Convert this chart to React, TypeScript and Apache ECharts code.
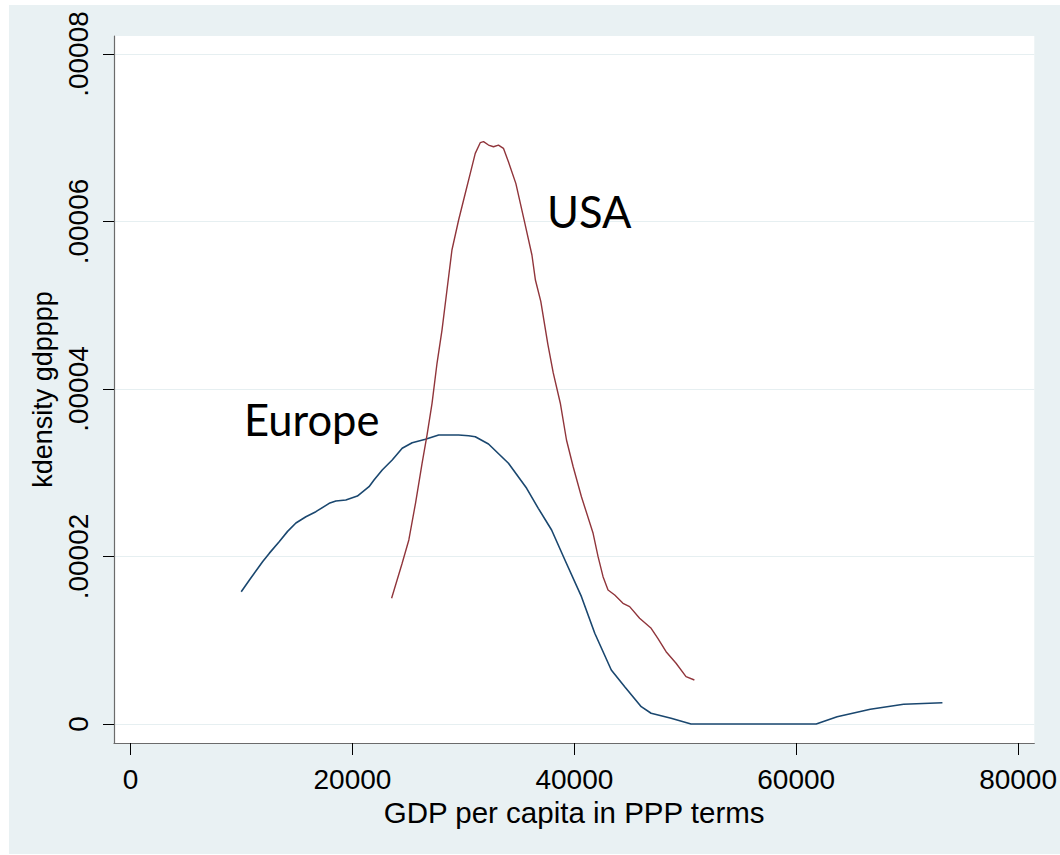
import React, { useEffect, useRef } from "react";
import * as echarts from "echarts";

// Europe kernel density (GDP per capita, density)
const europeX = [9970, 10710, 11910, 12510, 13410, 14150, 14900, 15800, 16700, 17900, 18500, 19400, 20440, 21490, 21940, 22680, 23580, 24480, 25380, 26580, 27770, 29570, 30470, 31070, 32260, 34060, 35700, 36750, 37950, 39150, 40640, 41840, 43330, 44540, 46030, 46920, 48720, 50520, 61800, 63690, 66680, 69680, 73180];
const europeY = [1.58e-5, 1.72e-5, 1.94e-5, 2.04e-5, 2.18e-5, 2.3e-5, 2.4e-5, 2.475e-5, 2.535e-5, 2.635e-5, 2.663e-5, 2.675e-5, 2.722e-5, 2.833e-5, 2.913e-5, 3.033e-5, 3.152e-5, 3.292e-5, 3.359e-5, 3.399e-5, 3.451e-5, 3.451e-5, 3.442e-5, 3.43e-5, 3.343e-5, 3.113e-5, 2.814e-5, 2.575e-5, 2.316e-5, 1.958e-5, 1.52e-5, 1.083e-5, 0.645e-5, 0.446e-5, 0.207e-5, 0.128e-5, 0.068e-5, 0, 0, 0.087e-5, 0.176e-5, 0.235e-5, 0.254e-5];

// USA kernel density
const usaX = [23525, 24477, 25079, 25680, 26273, 26722, 27171, 27620, 28069, 28518, 28966, 29568, 30169, 30618, 31067, 31516, 31813, 32261, 32710, 33159, 33608, 34057, 34730, 35530, 36176, 36490, 36975, 37613, 38098, 38735, 39292, 39894, 40639, 41690, 42139, 42588, 43037, 43639, 44384, 44985, 45883, 46924, 47526, 48271, 49169, 50067, 50821];
const usaY = [1.501e-5, 1.919e-5, 2.197e-5, 2.635e-5, 3.113e-5, 3.451e-5, 3.829e-5, 4.307e-5, 4.704e-5, 5.182e-5, 5.66e-5, 6.018e-5, 6.337e-5, 6.575e-5, 6.814e-5, 6.941e-5, 6.953e-5, 6.913e-5, 6.893e-5, 6.913e-5, 6.874e-5, 6.714e-5, 6.452e-5, 5.983e-5, 5.6e-5, 5.301e-5, 5.046e-5, 4.534e-5, 4.192e-5, 3.83e-5, 3.391e-5, 3.072e-5, 2.714e-5, 2.277e-5, 1.998e-5, 1.759e-5, 1.6e-5, 1.54e-5, 1.441e-5, 1.401e-5, 1.262e-5, 1.143e-5, 1.023e-5, 0.863e-5, 0.725e-5, 0.565e-5, 0.525e-5];

const xTicks = [0, 20000, 40000, 60000, 80000];
const yTicks = [0, 0.00002, 0.00004, 0.00006, 0.00008];
const yTickLabels = ["0", ".00002", ".00004", ".00006", ".00008"];

const xTitle = "GDP per capita in PPP terms";
const yTitle = "kdensity gdpppp";
const europeLabel = "Europe";
const usaLabel = "USA";

export default function App() {
  const ref = useRef<HTMLDivElement>(null);
  useEffect(() => {
    if (!ref.current) return;
    const chart = echarts.init(ref.current, undefined, { renderer: "svg" });
    const font = "'Liberation Sans', Arial, sans-serif";
    const europeData = europeX.map((x, i) => [x, europeY[i]]);
    const usaData = usaX.map((x, i) => [x, usaY[i]]);
    chart.setOption({
      animation: false,
      backgroundColor: "#ffffff",
      graphic: [
        {
          type: "rect",
          left: 9,
          top: 5,
          shape: { width: 1051, height: 849 },
          style: { fill: "#E9F1F3" },
          z: -10,
          silent: true,
        },
        {
          type: "text",
          left: 244,
          top: 397,
          style: { text: europeLabel, fontSize: 43.5, fontFamily: "Lato, sans-serif", fill: "#000" },
          z: 10,
        },
        {
          type: "text",
          left: 547,
          top: 189,
          style: { text: usaLabel, fontSize: 43.5, fontFamily: "Lato, sans-serif", fill: "#000" },
          z: 10,
        },
      ],
      grid: {
        left: 114,
        top: 36,
        width: 924,
        height: 707,
        show: true,
        backgroundColor: "#ffffff",
        borderWidth: 0,
      },
      xAxis: {
        type: "value",
        min: -1499,
        max: 81463,
        name: xTitle,
        nameLocation: "middle",
        nameGap: 47,
        nameTextStyle: { fontSize: 29.5, fontFamily: font, color: "#000" },
        axisLine: { show: true, onZero: false, lineStyle: { color: "#6b6b6b", width: 1.2 } },
        axisTick: { show: true, length: 12, customValues: xTicks, lineStyle: { color: "#000", width: 1 } },
        axisLabel: {
          customValues: xTicks,
          fontSize: 28,
          fontFamily: font,
          color: "#000",
          margin: 22,
          formatter: (v: number) => String(v),
        },
        splitLine: { show: false },
      },
      yAxis: {
        type: "value",
        min: -0.00000227,
        max: 0.00008215,
        name: yTitle,
        nameLocation: "middle",
        nameGap: 40,
        nameTextStyle: { fontSize: 27, fontFamily: font, color: "#000" },
        axisLine: { show: true, onZero: false, lineStyle: { color: "#6b6b6b", width: 1.2 } },
        axisTick: { show: true, length: 11, customValues: yTicks, lineStyle: { color: "#000", width: 1 } },
        axisLabel: {
          customValues: yTicks,
          rotate: 90,
          fontSize: 28,
          fontFamily: font,
          color: "#000",
          margin: 22,
          formatter: (v: number) => {
            const idx = yTicks.findIndex((t) => Math.abs(t - v) < 1e-9);
            return idx >= 0 ? yTickLabels[idx] : "";
          },
        },
        splitLine: { show: true, lineStyle: { color: "#E6EFF1", width: 1.2 } },
      },
      series: [
        {
          name: "Europe",
          type: "line",
          data: europeData,
          showSymbol: false,
          symbol: "none",
          lineStyle: { color: "#1A476F", width: 1.6 },
          z: 3,
        },
        {
          name: "USA",
          type: "line",
          data: usaData,
          showSymbol: false,
          symbol: "none",
          lineStyle: { color: "#90353B", width: 1.4 },
          z: 4,
        },
      ],
    });
    return () => chart.dispose();
  }, []);
  return (
    <div
      ref={ref}
      style={{ position: "absolute", left: 0, top: 0, width: 1060, height: 855 }}
    />
  );
}
